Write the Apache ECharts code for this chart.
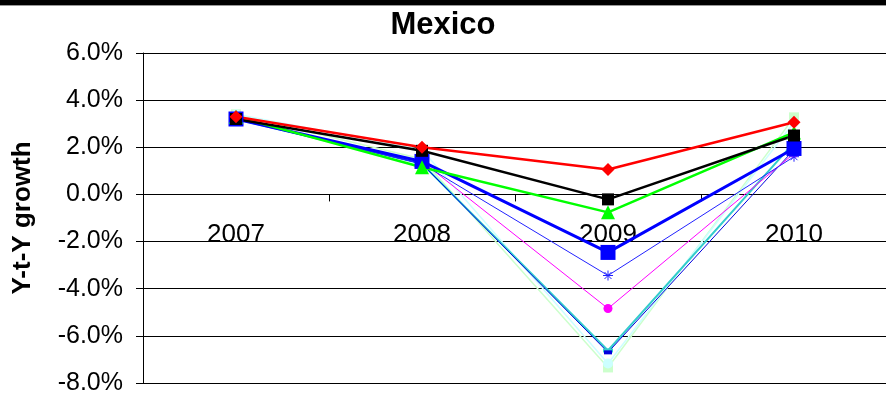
<!DOCTYPE html>
<html>
<head>
<meta charset="utf-8">
<script src="https://cdn.jsdelivr.net/npm/echarts@6/dist/echarts.min.js"></script>
<style>
    html, body { margin: 0; padding: 0; background: #fff; }
    #chart { width: 886px; height: 395px; }
</style>
</head>
<body>
<div id="chart"></div>
<script>
// years on the category axis
var years = ['2007', '2008', '2009', '2010'];
// y-t-y growth, percent
var redSeries = [3.3, 2.0, 1.06, 3.06];
var blackSeries = [3.2, 1.85, -0.21, 2.5];
var greenSeries = [3.3, 1.15, -0.76, 2.63];
var blueSeries = [3.2, 1.4, -2.46, 1.95];
var starSeries = [3.2, 1.3, -3.44, 1.6];
var magentaSeries = [3.2, 1.4, -4.84, 1.74];
var darkBlueSeries = [3.2, 1.3, -6.7, 1.9];
var tealSeries = [3.2, 1.3, -6.62, 2.2];
var lightCyanSeries = [3.4, 1.9, -7.17, 3.06];
var paleGreenSeries = [3.4, 1.5, -7.34, 3.27];
var yTicks = [-8, -6, -4, -2, 0, 2, 4, 6];

var font = 'Liberation Sans, Arial, sans-serif';
var asterisk = 'path://M0,5L10,5M5,0L5,10M1.5,1.5L8.5,8.5M8.5,1.5L1.5,8.5';

// plot box
var gridTop = 53, gridBottom = 12, chartH = 395;
var yMin = yTicks[0], yMax = yTicks[yTicks.length - 1];
// second grid ends on the zero line so the year labels sit under it
var zeroBottom = gridBottom + (0 - yMin) / (yMax - yMin) * (chartH - gridTop - gridBottom);

function line(name, data, color, width, symbol, size, extra) {
    var s = {
        name: name,
        type: 'line',
        data: data,
        symbol: symbol,
        symbolSize: size,
        lineStyle: {color: color, width: width},
        itemStyle: {color: color},
        animation: false,
        z: 3
    };
    if (extra) Object.assign(s, extra);
    return s;
}

var chart = echarts.init(document.getElementById('chart'));
var option = {
    animation: false,
    title: {
        text: 'Mexico',
        left: 'center',
        top: 5,
        textStyle: {fontFamily: font, fontSize: 31, fontWeight: 'bold', color: '#000'}
    },
    graphic: [
        {type: 'rect', shape: {x: 0, y: 0, width: 886, height: 5}, style: {fill: '#000'}},
        {type: 'rect', shape: {x: 0, y: 5, width: 886, height: 1}, style: {fill: '#999'}}
    ],
    grid: [
        {left: 143, right: -1, top: gridTop, bottom: gridBottom, outerBoundsMode: 'none'},
        {left: 143, right: -1, top: gridTop, bottom: zeroBottom, outerBoundsMode: 'none'}
    ],
    xAxis: [{
        type: 'category',
        gridIndex: 0,
        data: years,
        boundaryGap: true,
        axisLine: {onZero: true, lineStyle: {color: '#000', width: 1}},
        axisTick: {show: true, length: 7, lineStyle: {color: '#000'}},
        axisLabel: {show: false},
        splitLine: {show: false}
    }, {
        type: 'category',
        gridIndex: 1,
        data: years,
        boundaryGap: true,
        axisLine: {show: false},
        axisTick: {show: false},
        axisLabel: {margin: 27, fontFamily: font, fontSize: 26, color: '#000'},
        splitLine: {show: false}
    }],
    yAxis: [{
        type: 'value',
        gridIndex: 0,
        min: yMin,
        max: yMax,
        interval: 2,
        name: 'Y-t-Y growth',
        nameLocation: 'middle',
        nameGap: 107,
        nameRotate: 90,
        nameTextStyle: {fontFamily: font, fontSize: 26, fontWeight: 'bold', color: '#000'},
        axisLine: {show: true, lineStyle: {color: '#000', width: 1}},
        axisTick: {show: true, length: 7, lineStyle: {color: '#000'}},
        axisLabel: {
            margin: 20,
            fontFamily: font,
            fontSize: 25,
            color: '#000',
            formatter: function (v) { return v.toFixed(1) + '%'; }
        },
        splitLine: {show: true, lineStyle: {color: '#000', width: 1}}
    }, {
        type: 'value',
        gridIndex: 1,
        show: false
    }],
    series: [
        line('paleGreen', paleGreenSeries, '#ccffcc', 1.5, 'rect', 10),
        line('lightCyan', lightCyanSeries, '#ccffff', 1.5, 'circle', 10),
        line('teal', tealSeries, '#33cccc', 2, 'rect', [10, 4]),
        line('darkBlue', darkBlueSeries, '#0000dd', 1, 'rect', [8, 4]),
        line('magenta', magentaSeries, '#ff00ff', 1, 'circle', 9),
        line('star', starSeries, '#2222ff', 1, asterisk, 10, {
            itemStyle: {color: 'none', borderColor: '#2222ff', borderWidth: 1}
        }),
        line('blue', blueSeries, '#0000ff', 3, 'rect', 15),
        line('green', greenSeries, '#00ff00', 2.5, 'triangle', 14),
        line('black', blackSeries, '#000000', 2.5, 'rect', 12),
        line('red', redSeries, '#ff0000', 2.5, 'diamond', 13)
    ]
};
chart.setOption(option);
</script>
</body>
</html>
